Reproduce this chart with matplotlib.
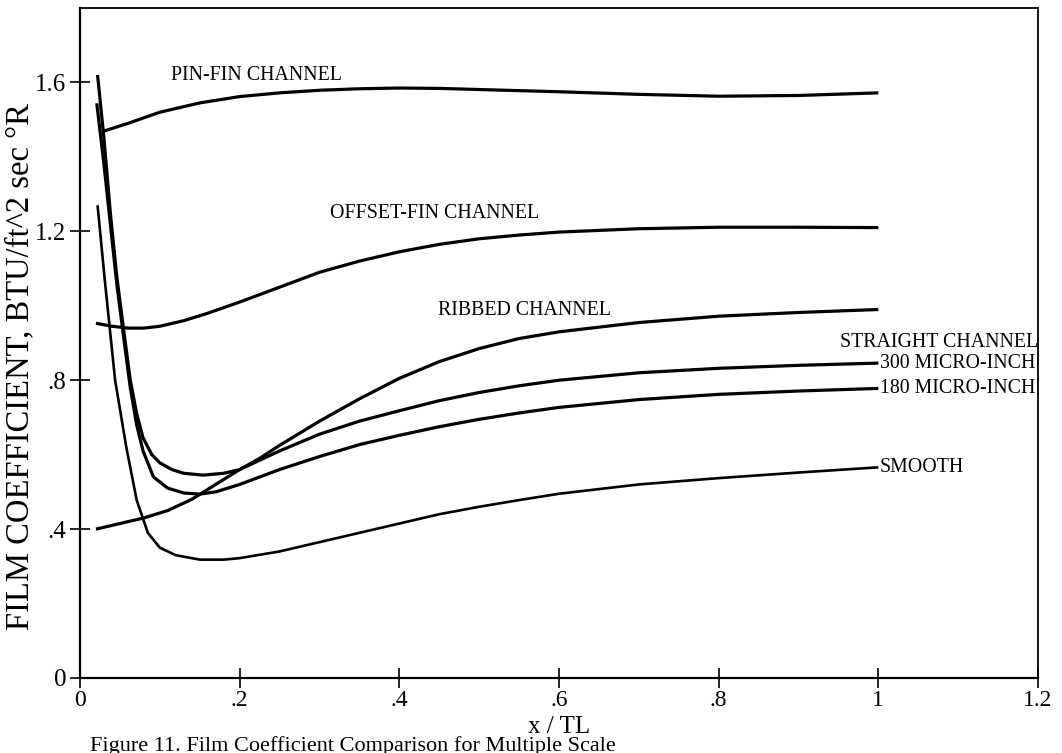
import matplotlib
matplotlib.use("Agg")
import matplotlib.pyplot as plt

plt.rcParams['font.family'] = ['Liberation Serif', 'DejaVu Serif']

# ---- data ----
pin_x = [0.028, 0.06, 0.10, 0.15, 0.20, 0.25, 0.30, 0.35, 0.40, 0.45, 0.50, 0.60, 0.70, 0.80, 0.90, 1.00]
pin_y = [1.468, 1.49, 1.52, 1.545, 1.562, 1.572, 1.579, 1.583, 1.585, 1.584, 1.581, 1.575, 1.568, 1.563, 1.565, 1.572]

off_x = [0.02, 0.04, 0.06, 0.08, 0.10, 0.13, 0.16, 0.20, 0.25, 0.30, 0.35, 0.40, 0.45, 0.50, 0.55, 0.60, 0.70, 0.80, 0.90, 1.00]
off_y = [0.953, 0.945, 0.940, 0.940, 0.945, 0.96, 0.98, 1.01, 1.05, 1.09, 1.12, 1.145, 1.165, 1.18, 1.19, 1.198, 1.207, 1.211, 1.211, 1.21]

rib_x = [0.02, 0.05, 0.08, 0.11, 0.14, 0.17, 0.20, 0.225, 0.25, 0.30, 0.35, 0.40, 0.45, 0.50, 0.55, 0.60, 0.70, 0.80, 0.90, 1.00]
rib_y = [0.40, 0.415, 0.43, 0.45, 0.48, 0.52, 0.56, 0.59, 0.625, 0.69, 0.75, 0.805, 0.85, 0.885, 0.912, 0.93, 0.955, 0.972, 0.982, 0.99]

m300_x = [0.022, 0.030, 0.038, 0.046, 0.055, 0.063, 0.071, 0.079, 0.09, 0.10, 0.115, 0.13, 0.154, 0.18, 0.20, 0.225, 0.25,
          0.30, 0.35, 0.40, 0.45, 0.50, 0.55, 0.60, 0.70, 0.80, 0.90, 1.00]
m300_y = [1.62, 1.45, 1.25, 1.08, 0.93, 0.80, 0.71, 0.645, 0.60, 0.578, 0.56, 0.55, 0.545, 0.55, 0.56, 0.585, 0.61,
          0.655, 0.69, 0.718, 0.745, 0.767, 0.785, 0.80, 0.82, 0.832, 0.84, 0.846]

m180_x = [0.021, 0.030, 0.038, 0.046, 0.055, 0.063, 0.071, 0.079, 0.092, 0.11, 0.13, 0.15, 0.17, 0.20, 0.25,
          0.30, 0.35, 0.40, 0.45, 0.50, 0.55, 0.60, 0.70, 0.80, 0.90, 1.00]
m180_y = [1.544, 1.38, 1.22, 1.06, 0.91, 0.78, 0.68, 0.61, 0.54, 0.51, 0.497, 0.494, 0.50, 0.52, 0.56,
          0.595, 0.627, 0.652, 0.675, 0.695, 0.712, 0.727, 0.748, 0.762, 0.771, 0.778]

smooth_x = [0.022, 0.031, 0.044, 0.058, 0.071, 0.085, 0.10, 0.12, 0.15, 0.18, 0.20, 0.25, 0.30, 0.35, 0.40, 0.45,
            0.50, 0.55, 0.60, 0.70, 0.80, 0.90, 1.00]
smooth_y = [1.27, 1.07, 0.80, 0.62, 0.478, 0.39, 0.35, 0.33, 0.318, 0.318, 0.322, 0.34, 0.365, 0.39, 0.415, 0.44,
            0.46, 0.478, 0.495, 0.52, 0.537, 0.552, 0.566]

x_ticks = [0, 0.2, 0.4, 0.6, 0.8, 1.0, 1.2]
x_tick_labels = ['0', '.2', '.4', '.6', '.8', '1', '1.2']
y_ticks = [0, 0.4, 0.8, 1.2, 1.6]
y_tick_labels = ['0', '.4', '.8', '1.2', '1.6']

fig = plt.figure(figsize=(10.62, 7.53), dpi=100)
ax = fig.add_axes([80/1062, 1 - 678/753, (1038-80)/1062, (678-8)/753])

lw = 2.3
for xs, ys, w in [(pin_x, pin_y, lw), (off_x, off_y, lw), (rib_x, rib_y, lw),
                  (m300_x, m300_y, lw), (m180_x, m180_y, lw), (smooth_x, smooth_y, 1.9)]:
    ax.plot(xs, ys, color='black', lw=w, solid_capstyle='butt', solid_joinstyle='round')

ax.set_xlim(0, 1.2)
ax.set_ylim(0, 1.8)
ax.set_xticks(x_ticks)
ax.set_xticklabels(x_tick_labels)
ax.set_yticks(y_ticks)
ax.set_yticklabels(y_tick_labels)
ax.tick_params(direction='inout', length=14, width=1.2, labelsize=18, pad=3)
ax.tick_params(axis='x', labelsize=17, pad=2)
for s in ['left', 'bottom']:
    ax.spines[s].set_linewidth(1.6)
for s in ['top', 'right']:
    ax.spines[s].set_linewidth(1.3)

lab = dict(fontsize=14.3, color='black')
ax.text(0.114, 1.62, 'PIN-FIN CHANNEL', va='center', ha='left', **lab)
ax.text(0.313, 1.248, 'OFFSET-FIN CHANNEL', va='center', ha='left', **lab)
ax.text(0.448, 0.988, 'RIBBED CHANNEL', va='center', ha='left', **lab)
ax.text(1.2, 0.902, 'STRAIGHT CHANNEL', va='center', ha='right', **lab)
ax.text(1.002, 0.846, '300 MICRO-INCH', va='center', ha='left', **lab)
ax.text(1.002, 0.778, '180 MICRO-INCH', va='center', ha='left', **lab)
ax.text(1.002, 0.566, 'SMOOTH', va='center', ha='left', **lab)

fig.text(559/1062, 1 - 727/753, 'x / TL', fontsize=18, ha='center', va='center')
ax.set_ylabel('FILM COEFFICIENT, BTU/ft^2 sec °R', fontsize=23.5)
ax.yaxis.set_label_coords(-0.047, (678 - 367) / 670)

fig.text(90/1062, 2/753, 'Figure 11. Film Coefficient Comparison for Multiple Scale', fontsize=16,
         ha='left', va='baseline')

fig.savefig('out.png', dpi=100)
